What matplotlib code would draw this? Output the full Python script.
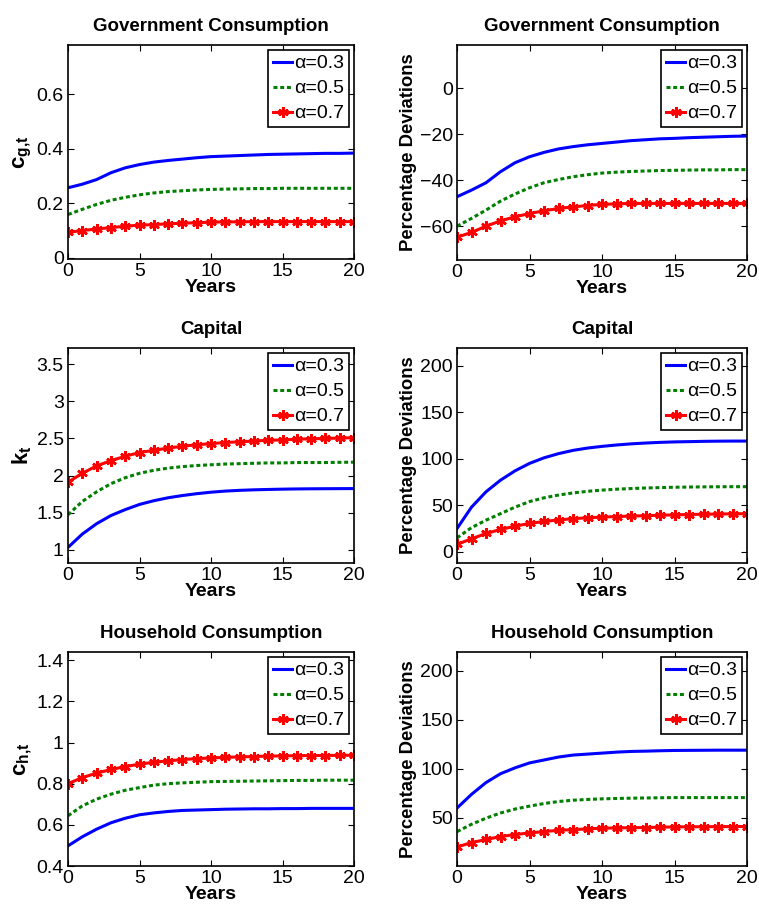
import matplotlib
matplotlib.use('Agg')
import matplotlib.pyplot as plt

plt.rcParams['font.family'] = ['Liberation Sans', 'DejaVu Sans']
plt.rcParams['mathtext.fontset'] = 'custom'
plt.rcParams['mathtext.bf'] = 'Liberation Sans:bold'
plt.rcParams['mathtext.rm'] = 'Liberation Sans'

years = list(range(21))
labels = ['\u03b1=0.3', '\u03b1=0.5', '\u03b1=0.7']

# government consumption, levels
cg_a3 = [0.257, 0.270, 0.287, 0.312, 0.330, 0.342, 0.351, 0.357, 0.362, 0.367, 0.371,
         0.373, 0.375, 0.377, 0.379, 0.380, 0.381, 0.382, 0.383, 0.383, 0.384]
cg_a5 = [0.159, 0.178, 0.196, 0.211, 0.222, 0.231, 0.238, 0.243, 0.246, 0.249, 0.251,
         0.252, 0.253, 0.254, 0.254, 0.255, 0.255, 0.255, 0.255, 0.255, 0.255]
cg_a7 = [0.094, 0.100, 0.106, 0.111, 0.116, 0.120, 0.122, 0.125, 0.127, 0.129, 0.131,
         0.132, 0.132, 0.133, 0.133, 0.133, 0.133, 0.133, 0.133, 0.133, 0.133]
# government consumption, % deviations
cgp_a3 = [-47.2, -44.3, -41.1, -36.3, -32.4, -29.8, -27.9, -26.4, -25.4, -24.6, -24.0,
          -23.4, -22.8, -22.4, -22.0, -21.8, -21.5, -21.3, -21.1, -20.9, -20.8]
cgp_a5 = [-60.0, -56.6, -53.0, -49.1, -46.0, -43.3, -41.1, -39.7, -38.5, -37.6, -36.9,
          -36.5, -36.2, -36.0, -35.8, -35.7, -35.6, -35.5, -35.5, -35.4, -35.4]
cgp_a7 = [-64.8, -62.7, -60.0, -57.7, -55.9, -54.5, -53.3, -52.3, -51.6, -51.0, -50.5,
          -50.3, -50.1, -50.1, -50.1, -50.1, -50.1, -50.1, -50.1, -50.1, -50.1]
# capital, levels
k_a3 = [1.03, 1.21, 1.35, 1.46, 1.54, 1.61, 1.66, 1.70, 1.73, 1.755, 1.775,
        1.79, 1.80, 1.807, 1.812, 1.816, 1.819, 1.821, 1.822, 1.823, 1.824]
k_a5 = [1.47, 1.65, 1.78, 1.89, 1.97, 2.03, 2.07, 2.10, 2.12, 2.135, 2.145,
        2.155, 2.16, 2.165, 2.17, 2.17, 2.175, 2.175, 2.175, 2.178, 2.18]
k_a7 = [1.91, 2.03, 2.13, 2.20, 2.26, 2.31, 2.34, 2.37, 2.395, 2.415, 2.43,
        2.445, 2.455, 2.465, 2.475, 2.48, 2.49, 2.495, 2.50, 2.505, 2.51]
# capital, % deviations
kp_a3 = [25, 48, 64.5, 77, 87, 95, 101, 105.5, 109, 111.5, 113.3,
         114.8, 116, 116.9, 117.6, 118.1, 118.4, 118.7, 118.9, 119, 119]
kp_a5 = [15, 26, 34, 41, 48, 54, 58, 61, 63.3, 65, 66.3,
         67.3, 68, 68.6, 69, 69.4, 69.6, 69.8, 69.9, 70, 70]
kp_a7 = [8, 14, 19.7, 24, 27.6, 30.5, 32.6, 34.3, 35.6, 36.6, 37.3,
         37.9, 38.4, 38.8, 39.3, 39.7, 40.1, 40.4, 40.6, 40.8, 41]
# household consumption, levels
ch_a3 = [0.498, 0.542, 0.579, 0.610, 0.632, 0.649, 0.658, 0.665, 0.670, 0.672, 0.674,
         0.676, 0.677, 0.678, 0.678, 0.679, 0.679, 0.680, 0.680, 0.680, 0.680]
ch_a5 = [0.644, 0.692, 0.725, 0.749, 0.768, 0.781, 0.793, 0.800, 0.804, 0.807, 0.810,
         0.811, 0.812, 0.813, 0.814, 0.815, 0.816, 0.816, 0.817, 0.817, 0.817]
ch_a7 = [0.800, 0.830, 0.851, 0.869, 0.883, 0.895, 0.904, 0.911, 0.917, 0.922, 0.925,
         0.928, 0.930, 0.932, 0.934, 0.935, 0.936, 0.937, 0.937, 0.938, 0.938]
# household consumption, % deviations
chp_a3 = [60, 74, 86, 95, 101, 106, 109, 112, 114, 115, 116,
          117, 117.7, 118, 118.4, 118.7, 118.8, 118.9, 119, 119, 119]
chp_a5 = [36, 43.5, 49.7, 55, 59, 62, 64.6, 66.7, 68, 68.8, 69.4,
          69.8, 70.1, 70.3, 70.5, 70.7, 70.7, 70.7, 70.7, 70.7, 70.7]
chp_a7 = [20.4, 24.8, 28, 31, 33, 34.7, 36, 37.4, 38, 38.8, 39.5,
          39.8, 40, 40.2, 40.5, 40.8, 40.9, 41, 41.1, 41.2, 41.2]

W, H = 759, 905
fig = plt.figure(figsize=(W / 100, H / 100), dpi=100)


def box(l, t, r, b):
    return [l / W, 1 - b / H, (r - l) / W, (b - t) / H]


panels = [
    (box(68, 45, 354, 259), 'Government Consumption', r'$\mathbf{c_{g{,}t}}$',
     (cg_a3, cg_a5, cg_a7), (-0.004, 0.78), [0, 0.2, 0.4, 0.6], ['0', '0.2', '0.4', '0.6']),
    (box(457, 45, 747, 260), 'Government Consumption', 'Percentage Deviations',
     (cgp_a3, cgp_a5, cgp_a7), (-74.7, 18.8), [-60, -40, -20, 0], None),
    (box(68, 348, 354, 563), 'Capital', r'$\mathbf{k_{t}}$',
     (k_a3, k_a5, k_a7), (0.82, 3.72), [1, 1.5, 2, 2.5, 3, 3.5], ['1', '1.5', '2', '2.5', '3', '3.5']),
    (box(457, 348, 747, 563), 'Capital', 'Percentage Deviations',
     (kp_a3, kp_a5, kp_a7), (-12, 219), [0, 50, 100, 150, 200], None),
    (box(68, 652, 354, 866), 'Household Consumption', r'$\mathbf{c_{h{,}t}}$',
     (ch_a3, ch_a5, ch_a7), (0.4, 1.44), [0.4, 0.6, 0.8, 1, 1.2, 1.4], ['0.4', '0.6', '0.8', '1', '1.2', '1.4']),
    (box(457, 652, 747, 866), 'Household Consumption', 'Percentage Deviations',
     (chp_a3, chp_a5, chp_a7), (1, 219), [50, 100, 150, 200], None),
]

for pos, title, ylab, (s3, s5, s7), ylim, yticks, yticklabels in panels:
    ax = fig.add_axes(pos)
    ax.plot(years, s3, color='#0000ff', lw=2.2, label=labels[0])
    ax.plot(years, s5, color='#007f00', lw=2.2, ls=(0, (1.3, 0.9)), label=labels[1])
    ax.plot(years, s7, color='#ff0000', lw=2.2, marker=(6, 2, 0), ms=7.5, mew=1.8,
            label=labels[2])
    ax.set_xlim(0, 20)
    ax.set_ylim(*ylim)
    ax.set_xticks([0, 5, 10, 15, 20])
    ax.set_yticks(yticks)
    if yticklabels is not None:
        ax.set_yticklabels(yticklabels)
    else:
        ax.set_yticklabels([str(v).replace('-', '\u2212') for v in yticks])
    ax.tick_params(direction='in', top=True, right=True, labelsize=14, length=4, pad=3)
    ax.set_title(title, fontsize=13.5, fontweight='bold', pad=10)
    ax.set_xlabel('Years', fontsize=14, fontweight='bold', labelpad=-1)
    ax.set_ylabel(ylab, fontsize=13.3 if 'Perc' in ylab else 16, fontweight='bold', labelpad=2)
    for sp in ax.spines.values():
        sp.set_linewidth(1.2)
    leg = ax.legend(loc='upper right', fontsize=14, fancybox=False, edgecolor='black',
                    framealpha=1, handlelength=1.0, handletextpad=0.1, borderpad=0.25,
                    labelspacing=0.38, borderaxespad=0.25)
    leg.get_frame().set_linewidth(1.2)

fig.savefig('out.png', dpi=100)
